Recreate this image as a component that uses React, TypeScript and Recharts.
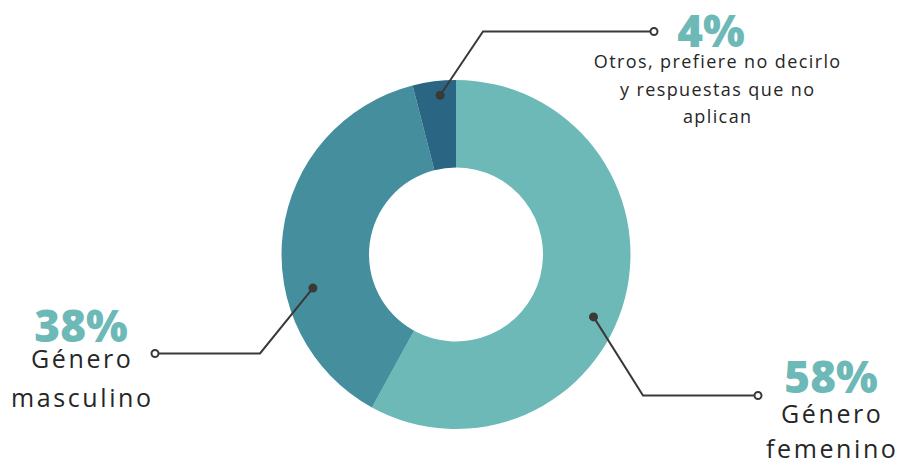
import React from 'react';
import { PieChart, Pie, Cell } from 'recharts';

// survey answers (share of respondents, %)
const categories = ['Género femenino', 'Género masculino', 'Otros, prefiere no decirlo y respuestas que no aplican'];
const values = [58, 38, 4];
const labelLines = [
  ['Género', 'femenino'],
  ['Género', 'masculino'],
  ['Otros, prefiere no decirlo', 'y respuestas que no', 'aplican'],
];

const colors = ['#6db9b7', '#448e9d', '#2b6584'];
const lineColor = '#3b3836';
const fontFamily = '"Open Sans", "DejaVu Sans", sans-serif';

const data = categories.map((name, i) => ({ name, value: values[i] }));

// callout layout, relative to the pie centre
const callouts = [
  { shift: -10, r: 151, elbow: [187, 141], end: [302, 141], tx: 375, pctY: 138, lineY: [168, 203], size: 25, ls: 2.6 },
  { shift: 20.4, r: 147, elbow: [-196, 99], end: [-301, 99], tx: -375, pctY: 87, lineY: [113, 152], size: 25, ls: 2.6 },
  { shift: -1.5, r: 160, elbow: [27, -223], end: [198, -223], tx: 255, pctY: -208, lineY: [-187, -159, -132], size: 18, lx: 261, ls: 1.4 },
];

const RADIAN = Math.PI / 180;

function renderCallout(props: any) {
  const { cx, cy, midAngle, index, value } = props;
  const c = callouts[index];
  const a = (midAngle + c.shift) * RADIAN;
  const dx = cx + c.r * Math.cos(a);
  const dy = cy - c.r * Math.sin(a);
  const ex = cx + c.elbow[0];
  const ey = cy + c.elbow[1];
  const fx = cx + c.end[0];
  const fy = cy + c.end[1];
  const lx = cx + (c.lx ?? c.tx) + c.ls / 2;
  return (
    <g key={`callout-${index}`}>
      <polyline points={`${dx},${dy} ${ex},${ey} ${fx},${fy}`} fill="none" stroke={lineColor} strokeWidth={2} />
      <circle cx={dx} cy={dy} r={4.5} fill={lineColor} />
      <circle cx={fx} cy={fy} r={3.5} fill="#fff" stroke={lineColor} strokeWidth={2} />
      <text x={cx + c.tx} y={cy + c.pctY} textAnchor="middle" fill={colors[0]} fontFamily={fontFamily} fontWeight={800} fontSize={44}>
        {`${value}%`}
      </text>
      {labelLines[index].map((line, i) => (
        <text
          key={i}
          x={lx}
          y={cy + c.lineY[i]}
          textAnchor="middle"
          fill="#262626"
          fontFamily={fontFamily}
          fontSize={c.size}
          letterSpacing={c.ls}
        >
          {line}
        </text>
      ))}
    </g>
  );
}

export default function App() {
  return (
    <div style={{ position: 'absolute', left: 0, top: 0, background: '#fff' }}>
      <PieChart width={902} height={463} margin={{ top: 0, right: 0, bottom: 0, left: 0 }}>
        <Pie
          data={data}
          dataKey="value"
          nameKey="name"
          cx={456}
          cy={254.5}
          innerRadius={87}
          outerRadius={174.5}
          startAngle={90}
          endAngle={-270}
          stroke="none"
          labelLine={false}
          label={renderCallout}
          isAnimationActive={false}
        >
          {data.map((_, i) => (
            <Cell key={`cell-${i}`} fill={colors[i]} />
          ))}
        </Pie>
      </PieChart>
    </div>
  );
}
